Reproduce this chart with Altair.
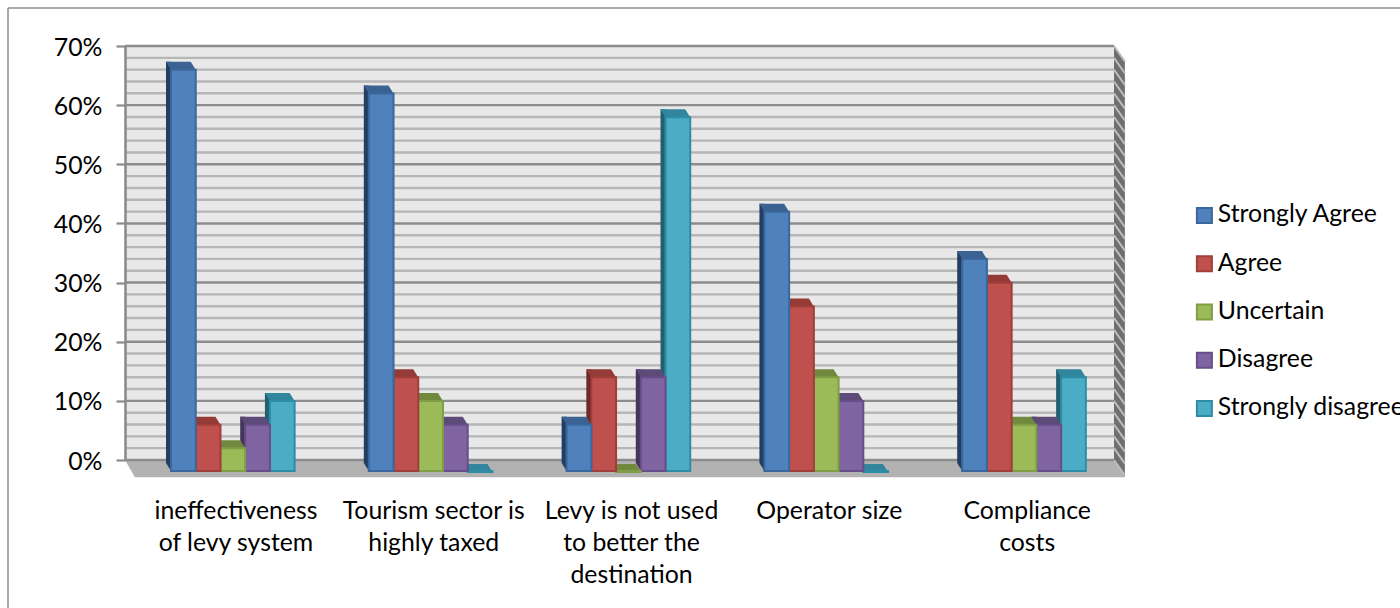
import altair as alt
import pandas as pd

categories = [
    "ineffectiveness\nof levy system",
    "Tourism sector is\nhighly taxed",
    "Levy is not used\nto better the\ndestination",
    "Operator size",
    "Compliance\ncosts",
]
series = ["Strongly Agree", "Agree", "Uncertain", "Disagree", "Strongly disagree"]
strongly_agree = [68, 64, 8, 44, 36]
agree = [8, 16, 16, 28, 32]
uncertain = [4, 12, 0, 16, 8]
disagree = [8, 8, 16, 12, 8]
strongly_disagree = [12, 0, 60, 0, 16]
values = [strongly_agree, agree, uncertain, disagree, strongly_disagree]

front_colors = ["#4F81BD", "#C0504D", "#9BBB59", "#8064A2", "#4BACC6"]
edge_colors = ["#3A679C", "#A03E3B", "#7F9E45", "#664E88", "#2F8CA6"]
top_colors = ["#3B6291", "#943A37", "#71893F", "#5E4A78", "#31859C"]
side_colors = ["#223F63", "#6F2927", "#55682E", "#44365A", "#22606F"]

major_ticks = [0, 10, 20, 30, 40, 50, 60, 70]
minor_ticks = [g for g in range(0, 71, 2) if g % 10]

FONT = "Lato"
FS = 24.8
BAR_W = 0.125
LEAD = 0.2326
WALL_DX = 0.055
WALL_DY = 2.6
FLOOR_DY = 2.9

x_scale = alt.Scale(domain=[0, 5], nice=False, zero=False)
y_scale = alt.Scale(domain=[0, 70], nice=False, zero=False)


def X(field="x"):
    return alt.X(f"{field}:Q", scale=x_scale, axis=None)


def Y(field="y"):
    return alt.Y(f"{field}:Q", scale=y_scale, title=None)


rows = []
for s, name in enumerate(series):
    for g in range(len(categories)):
        x0 = g + LEAD + s * BAR_W
        rows.append(dict(series=name, s=s, x0=x0, x1=x0 + BAR_W,
                         xc=x0 + BAR_W / 2, v=values[s][g], base=0))
bars = pd.DataFrame(rows)

# The value axis comes first so its definition wins; zindex keeps it over the walls
axis_layer = alt.Chart(pd.DataFrame({"y": [0, 70]})).mark_point(opacity=0).encode(
    y=alt.Y("y:Q", scale=y_scale, title=None, axis=alt.Axis(
        values=major_ticks, labelExpr="datum.value + '%'", grid=False, zindex=1,
        domainColor="#8C8C8C", domainWidth=2.6, tickColor="#8C8C8C", tickWidth=2.2,
        tickSize=9, labelFont=FONT, labelFontSize=FS, labelColor="#000000",
        labelPadding=14, labelOffset=2)))

# Back wall, floor and right-hand wall
wall = alt.Chart(pd.DataFrame([dict(a=0, b=5, lo=0, hi=70)])).mark_rect(color="#E8E8E8").encode(
    x=X("a"), x2="b:Q", y=Y("lo"), y2="hi:Q")

floor = alt.Chart(pd.DataFrame([
    dict(x=0, lo=0, hi=0),
    dict(x=0.05, lo=-FLOOR_DY, hi=0),
    dict(x=5, lo=-FLOOR_DY, hi=0),
    dict(x=5 + WALL_DX, lo=-FLOOR_DY, hi=-FLOOR_DY),
])).mark_area(color="#B2B2B2", opacity=1).encode(x=X(), y=Y("lo"), y2="hi:Q")

right_wall = alt.Chart(pd.DataFrame([
    dict(x=5, lo=0, hi=70),
    dict(x=5 + WALL_DX, lo=-FLOOR_DY, hi=70 - WALL_DY),
])).mark_area(color="#6F6F6F", opacity=1).encode(x=X(), y=Y("lo"), y2="hi:Q")


def grid(ticks, color):
    return alt.Chart(pd.DataFrame({"y": ticks, "a": 0, "b": 5})).mark_rule(
        color=color, strokeWidth=2.4).encode(x=X("a"), x2="b:Q", y=Y())


all_ticks = sorted(major_ticks + minor_ticks)
hatch = alt.Chart(pd.DataFrame({
    "y": all_ticks,
    "y2": [t - WALL_DY for t in all_ticks],
    "a": 5,
    "b": 5 + WALL_DX,
})).mark_rule(color="#BDBDBD", strokeWidth=2).encode(
    x=X("a"), x2="b:Q", y=Y(), y2="y2:Q")

TOP_SHAPE = "M-0.712,0 L0.712,0 L0.424,-0.461 L-1,-0.461 Z"

bar_layers = []
# Rightmost series first: a bar's front hides the side face of its right neighbour
for s in reversed(range(len(series))):
    d = bars[bars.s == s]
    side = alt.Chart(d).transform_calculate(xs="datum.x0 - 5 * 5 / 989").mark_rect(
        color=side_colors[s], yOffset=4, y2Offset=3).encode(
        x=X("xs"), x2="x0:Q", y=Y("v"), y2="base:Q")
    foot = alt.Chart(d).transform_calculate(xf="datum.x0 - 2.5 * 5 / 989").mark_point(
        shape="M-1,-1.6 L1,-1.6 L1,1.6 Z", filled=True, size=25, opacity=1,
        color=side_colors[s], yOffset=7).encode(x=X("xf"), y=Y("base"))
    top = alt.Chart(d).mark_point(
        shape=TOP_SHAPE, filled=True, size=1204, opacity=1, color=top_colors[s],
        yOffset=12).encode(x=X("xc"), y=Y("v"))
    front = alt.Chart(d).mark_rect(strokeWidth=2, yOffset=12, y2Offset=11).encode(
        x=X("x0"), x2="x1:Q", y=Y("v"), y2="base:Q",
        fill=alt.Fill("series:N", scale=alt.Scale(domain=series, range=front_colors),
                      legend=alt.Legend(title=None)),
        stroke=alt.Stroke("series:N", scale=alt.Scale(domain=series, range=edge_colors),
                          legend=alt.Legend(title=None)),
    )
    bar_layers += [side, foot, top, front]

labels = alt.Chart(pd.DataFrame({
    "x": [g + 0.561 for g in range(len(categories))],
    "y": 0,
    "t": categories,
})).mark_text(font=FONT, fontSize=FS, color="#000000", lineBreak="\n", lineHeight=32,
              baseline="top", align="center", yOffset=39).encode(
    x=X(), y=Y(), text="t:N")

frame_top = alt.Chart(pd.DataFrame({"y": [0]})).mark_rule(color="#8C8C8C", strokeWidth=1.5).encode(
    x=alt.value(-117), x2=alt.value(1275), y=alt.value(-38))
frame_left = alt.Chart(pd.DataFrame({"y": [0]})).mark_rule(color="#8C8C8C", strokeWidth=1.5).encode(
    x=alt.value(-117), y=alt.value(-38), y2=alt.value(562))

chart = alt.layer(
    axis_layer, frame_top, frame_left, wall, grid(minor_ticks, "#B6B6B6"), floor, right_wall, hatch,
    grid(major_ticks, "#8C8C8C"), *bar_layers, labels,
).properties(
    width=989, height=414,
    padding={"left": 125, "top": 46, "right": 286, "bottom": 148},
    autosize=alt.AutoSizeParams(type="none"),
    background="#FFFFFF",
).configure_view(stroke=None).configure_legend(
    orient="none", legendX=1067, legendY=157, symbolType="square", symbolSize=225,
    symbolStrokeWidth=2, labelFont=FONT, labelFontSize=FS, labelColor="#000000",
    labelLimit=400, rowPadding=22.25, labelOffset=1, symbolOpacity=1,
)

chart.save("out.html", embed_options={"renderer": "svg", "actions": False})
